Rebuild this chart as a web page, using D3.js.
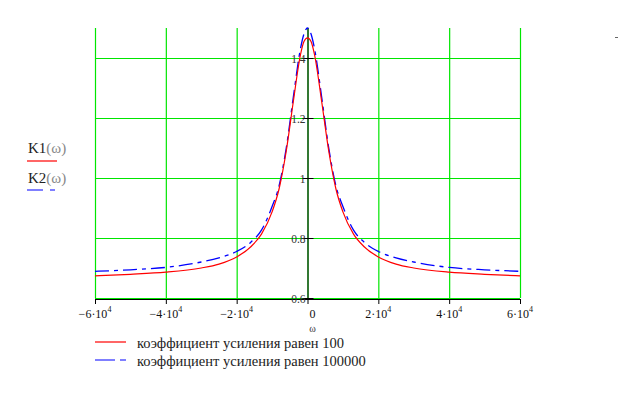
<!DOCTYPE html>
<html><head><meta charset="utf-8">
<script src="https://cdn.jsdelivr.net/npm/d3@7"></script>
<style>body{margin:0;background:#fff}svg{display:block}</style>
</head><body><svg id="c" width="620" height="399" font-family="'Liberation Serif','DejaVu Serif','Times New Roman',serif"></svg>
<script>
const omega = [-60000,-50000,-40000,-30000,-25000,-20000,-16000,-13000,-10000,-8000,-6000,-4000,-2000,-1000,0,1000,2000,4000,6000,8000,10000,13000,16000,20000,25000,30000,40000,50000,60000];
const k1 = [0.674,0.679,0.686,0.700,0.713,0.737,0.771,0.813,0.887,0.965,1.09,1.255,1.41,1.455,1.467,1.455,1.41,1.255,1.09,0.965,0.887,0.813,0.771,0.737,0.713,0.700,0.686,0.679,0.674];
const k2 = [0.689,0.694,0.702,0.720,0.734,0.755,0.786,0.826,0.905,0.975,1.10,1.27,1.43,1.48,1.50,1.48,1.43,1.27,1.10,0.975,0.905,0.826,0.786,0.755,0.734,0.720,0.702,0.694,0.689];
const xTicks = [-60000,-40000,-20000,0,20000,40000,60000];
const xTickMant = ["\u22126","\u22124","\u22122","0","2","4","6"];
const yTicks = [0.6,0.8,1.0,1.2,1.4];
const yTickLabels = ["0.6","0.8","1","1.2","1.4"];
const legendLabels = ["коэффициент усиления равен 100","коэффициент усиления равен 100000"];
const colors = ["#ff0000","#0000ff"];

const svg = d3.select("#c");
const x = d3.scaleLinear().domain([-60000,60000]).range([95,520]);
const y = d3.scaleLinear().domain([0.6,1.5]).range([298,28]);
const green = "#00e600";

// grid
svg.append("g").selectAll("line.v").data(xTicks).join("line")
  .attr("x1",d=>x(d)+0.5).attr("x2",d=>x(d)+0.5).attr("y1",y(1.5)).attr("y2",y(0.6))
  .attr("stroke",green).attr("stroke-width",1.2);
svg.append("g").selectAll("line.h").data(yTicks).join("line")
  .attr("x1",x(-60000)).attr("x2",x(60000)).attr("y1",d=>y(d)+0.5).attr("y2",d=>y(d)+0.5)
  .attr("stroke",green).attr("stroke-width",1.2);

// axes
svg.append("line").attr("x1",x(0)+0.5).attr("x2",x(0)+0.5).attr("y1",y(1.5)).attr("y2",y(0.6)+1)
  .attr("stroke","#000");
svg.append("line").attr("x1",x(-60000)).attr("x2",x(60000)).attr("y1",y(0.6)+1.5).attr("y2",y(0.6)+1.5)
  .attr("stroke","#000");
svg.append("g").selectAll("line").data(xTicks).join("line")
  .attr("x1",d=>x(d)+0.5).attr("x2",d=>x(d)+0.5).attr("y1",y(0.6)+1).attr("y2",y(0.6)+6)
  .attr("stroke","#000");
svg.append("g").selectAll("line").data(yTicks).join("line")
  .attr("x1",x(0)-5).attr("x2",x(0)+6).attr("y1",d=>y(d)+0.5).attr("y2",d=>y(d)+0.5)
  .attr("stroke","#000");

// y tick labels
svg.append("g").selectAll("text").data(yTicks).join("text")
  .attr("x",x(0)-2).attr("y",d=>y(d)+5).attr("text-anchor","end")
  .attr("font-size",11.5).attr("fill","#333").text((d,i)=>yTickLabels[i]);

// x tick labels
const xl = svg.append("g").selectAll("text").data(xTicks).join("text")
  .attr("x",(d,i)=>d===0?x(d)+5:x(d)).attr("y",318).attr("text-anchor","middle")
  .attr("font-size",12).attr("fill","#111");
xl.each(function(d,i){
  const t=d3.select(this);
  if(d===0){t.text("0");return;}
  t.append("tspan").text(xTickMant[i]+"\u00b710");
  t.append("tspan").attr("font-size",8).attr("dy",-6).text("4");
});
svg.append("text").attr("x",x(0)+5).attr("y",332).attr("text-anchor","middle")
  .attr("font-size",10).attr("fill","#333").text("ω");

// curves
const line = d3.line().x((d,i)=>x(omega[i])).y(d=>y(d)).curve(d3.curveMonotoneX);
svg.append("path").datum(k2).attr("d",line).attr("fill","none").attr("stroke",colors[1])
  .attr("stroke-width",1.3).attr("stroke-dasharray","14,5,4,5");
svg.append("path").datum(k1).attr("d",line).attr("fill","none").attr("stroke",colors[0])
  .attr("stroke-width",1.2);

// left legend labels
const lt = [["K1",148],["K2",178]];
lt.forEach(([n,yy],i)=>{
  const t = svg.append("text").attr("x",28).attr("y",yy+5).attr("font-size",15).attr("fill","#222");
  t.append("tspan").text(n);
  t.append("tspan").attr("fill","#888").text("(ω)");
});
svg.append("line").attr("x1",27).attr("x2",57).attr("y1",161).attr("y2",161).attr("stroke",colors[0]).attr("stroke-width",1.2);
svg.append("line").attr("x1",27).attr("x2",56).attr("y1",190).attr("y2",190).attr("stroke",colors[1]).attr("stroke-width",1.2).attr("stroke-dasharray","16,7,5,20");

// bottom legend
legendLabels.forEach((lab,i)=>{
  const yy = 342 + i*18;
  svg.append("line").attr("x1",95).attr("x2",126).attr("y1",yy).attr("y2",yy).attr("stroke",colors[i])
    .attr("stroke-width",1.2).attr("stroke-dasharray",i?"20,5,6,30":null);
  svg.append("text").attr("x",137).attr("y",yy+6).attr("font-size",14.5).attr("fill","#222").text(lab);
});

// stray mark top right
svg.append("line").attr("x1",615).attr("x2",618).attr("y1",37.5).attr("y2",37.5).attr("stroke","#666");
</script></body></html>
